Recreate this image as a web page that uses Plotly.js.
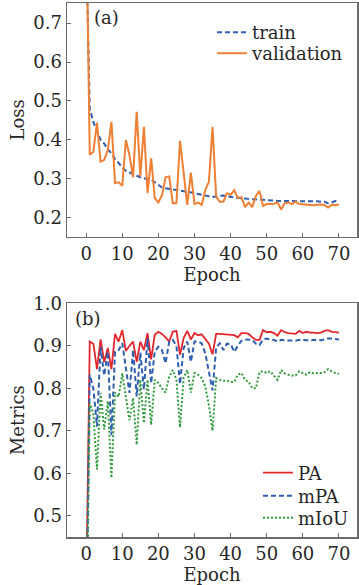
<!DOCTYPE html>
<html><head><meta charset="utf-8">
<script src="https://cdn.plot.ly/plotly-3.0.1.min.js"></script>
<style>html,body{margin:0;padding:0;background:#fff}#chart{width:359px;height:585px}</style>
</head><body><div id="chart"></div>
<script>
const epochs = Array.from({length: 71}, (_, i) => i);
const trainLoss = [0.90,0.48,0.445,0.42,0.40,0.39,0.375,0.365,0.35,0.34,
 0.328,0.32,0.315,0.31,0.307,0.303,0.30,0.298,0.297,0.29,
 0.283,0.277,0.275,0.273,0.272,0.27,0.268,0.267,0.266,0.264,
 0.262,0.26,0.257,0.255,0.254,0.253,0.253,0.255,0.256,0.254,
 0.252,0.251,0.25,0.249,0.248,0.247,0.246,0.246,0.245,0.245,
 0.244,0.243,0.243,0.242,0.242,0.242,0.242,0.242,0.241,0.241,
 0.241,0.241,0.241,0.241,0.241,0.240,0.240,0.236,0.238,0.242,0.242];
const valLoss = [1.0,0.361,0.369,0.444,0.343,0.348,0.373,0.446,0.288,0.29,
 0.281,0.399,0.36,0.303,0.472,0.305,0.433,0.262,0.352,0.249,
 0.238,0.257,0.303,0.305,0.236,0.236,0.397,0.315,0.232,0.315,
 0.234,0.238,0.232,0.27,0.292,0.433,0.253,0.24,0.24,0.262,
 0.258,0.27,0.25,0.252,0.226,0.238,0.226,0.255,0.268,0.229,
 0.234,0.234,0.235,0.238,0.22,0.236,0.238,0.234,0.24,0.234,
 0.233,0.232,0.231,0.231,0.232,0.233,0.232,0.225,0.232,0.231,0.233];
const paVals = [0.30,0.91,0.905,0.845,0.915,0.862,0.895,0.845,0.928,0.91,
 0.937,0.888,0.9,0.91,0.862,0.91,0.89,0.93,0.868,0.926,
 0.933,0.928,0.92,0.91,0.933,0.935,0.879,0.918,0.935,0.915,
 0.93,0.925,0.927,0.915,0.905,0.88,0.928,0.928,0.927,0.927,
 0.926,0.925,0.92,0.93,0.93,0.928,0.92,0.914,0.914,0.937,
 0.932,0.933,0.93,0.924,0.937,0.932,0.93,0.929,0.928,0.935,
 0.93,0.933,0.931,0.931,0.93,0.931,0.935,0.937,0.933,0.932,0.931];
const mpaVals = [0.20,0.832,0.80,0.71,0.898,0.83,0.886,0.69,0.886,0.89,
 0.906,0.851,0.789,0.89,0.781,0.884,0.797,0.918,0.812,0.886,
 0.898,0.89,0.859,0.91,0.914,0.9,0.81,0.895,0.91,0.862,
 0.91,0.91,0.906,0.882,0.84,0.795,0.895,0.906,0.89,0.905,
 0.904,0.886,0.9,0.912,0.915,0.915,0.914,0.905,0.902,0.915,
 0.917,0.915,0.914,0.91,0.914,0.913,0.913,0.912,0.912,0.914,
 0.913,0.913,0.913,0.914,0.913,0.913,0.915,0.917,0.917,0.916,0.915];
const miouVals = [0.15,0.765,0.74,0.609,0.789,0.703,0.77,0.589,0.79,0.78,
 0.835,0.785,0.725,0.777,0.667,0.82,0.718,0.82,0.714,0.82,
 0.812,0.80,0.79,0.828,0.843,0.82,0.708,0.825,0.843,0.79,
 0.836,0.832,0.824,0.804,0.76,0.70,0.824,0.82,0.818,0.818,
 0.815,0.815,0.832,0.836,0.82,0.815,0.80,0.80,0.838,0.84,
 0.836,0.84,0.83,0.82,0.843,0.835,0.832,0.83,0.83,0.84,
 0.836,0.832,0.838,0.835,0.836,0.836,0.838,0.845,0.84,0.836,0.834];
const xTicks = [0,10,20,30,40,50,60,70];
const lossTicks = [0.2,0.3,0.4,0.5,0.6,0.7];
const metricTicks = [0.5,0.6,0.7,0.8,0.9,1.0];

const FONT = 'DejaVu Serif, serif';
const frame = '#6a6a6a';
const TXT = '#262626';
const tickFont = {family: FONT, size: 18, color: TXT};

const traces = [
 {x: epochs, y: trainLoss, name: 'train', mode: 'lines', xaxis: 'x', yaxis: 'y',
  line: {color: '#2F5DAF', width: 2, dash: '5px,3px'}, legend: 'legend'},
 {x: epochs, y: valLoss, name: 'validation', mode: 'lines', xaxis: 'x', yaxis: 'y',
  line: {color: '#EE7F33', width: 2}, legend: 'legend2'},
 {x: epochs, y: paVals, name: 'PA', mode: 'lines', xaxis: 'x2', yaxis: 'y2',
  line: {color: '#E2262B', width: 1.8}, legend: 'legend3'},
 {x: epochs, y: mpaVals, name: 'mPA', mode: 'lines', xaxis: 'x2', yaxis: 'y2',
  line: {color: '#2F5DAF', width: 2, dash: '5px,3px'}, legend: 'legend4'},
 {x: epochs, y: miouVals, name: 'mIoU', mode: 'lines', xaxis: 'x2', yaxis: 'y2',
  line: {color: '#2F9A3C', width: 2, dash: '2px,2px'}, legend: 'legend5'}
];

function xax(anchor) {
 return {domain: [0,1], range: [-5.3, 75], anchor: anchor, tickvals: xTicks,
  ticks: 'inside', ticklen: 4, tickcolor: frame, showline: true, mirror: true,
  linecolor: frame, linewidth: 1.5, showgrid: false, zeroline: false,
  tickfont: tickFont, title: {text: 'Epoch', font: {family: FONT, size: 18, color: TXT}, standoff: 2}};
}
function yax(anchor, dom, rng, tv, title) {
 return {domain: dom, range: rng, anchor: anchor, tickvals: tv, tickformat: '.1f',
  ticks: 'inside', ticklen: 4, tickcolor: frame, showline: true, mirror: true,
  linecolor: frame, linewidth: 1.5, showgrid: false, zeroline: false,
  tickfont: tickFont, title: {text: title, font: {family: FONT, size: 18, color: TXT}, standoff: 4}};
}
function py(p) { return 1 - (p - 3) / 534; }
function leg(xLeft, yPix) {
 return {x: (xLeft - 67) / 290, y: py(yPix), xanchor: 'left', yanchor: 'middle',
  bgcolor: 'rgba(0,0,0,0)', font: {family: FONT, size: 18, color: TXT}, itemwidth: 30};
}

const layout = {
 width: 359, height: 585,
 margin: {l: 67, r: 2, t: 3, b: 48},
 paper_bgcolor: '#fff', plot_bgcolor: '#fff',
 font: {family: FONT, size: 18, color: TXT},
 xaxis: xax('y'),
 yaxis: yax('x', [0.5624, 1], [0.15, 0.752], lossTicks, 'Loss'),
 xaxis2: xax('y2'),
 yaxis2: yax('x2', [0, 0.4376], [0.45, 1.0], metricTicks, 'Metrics'),
 legend: leg(212, 32.5),
 legend2: leg(212, 53.5),
 legend3: leg(258, 473),
 legend4: leg(258, 496),
 legend5: leg(258, 518),
 showlegend: true,
 annotations: [
  {text: '(a)', xref: 'paper', yref: 'paper', x: (92-67)/290, y: py(18),
   xanchor: 'left', yanchor: 'middle', showarrow: false, font: {family: FONT, size: 18, color: TXT}},
  {text: '(b)', xref: 'paper', yref: 'paper', x: (73-67)/290, y: py(318),
   xanchor: 'left', yanchor: 'middle', showarrow: false, font: {family: FONT, size: 18, color: TXT}}
 ]
};
Plotly.newPlot('chart', traces, layout, {displayModeBar: false, staticPlot: true});
</script></body></html>
